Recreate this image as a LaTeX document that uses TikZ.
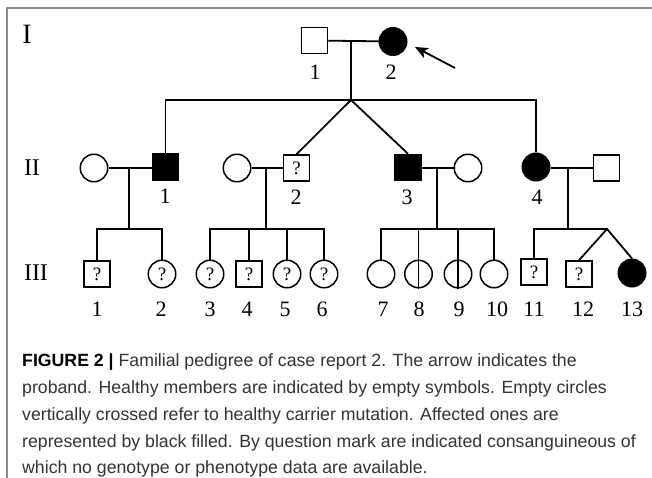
\documentclass[tikz,border=0pt]{standalone}
\usepackage{fontspec}
\setmainfont{Liberation Serif}
\newfontfamily\capfont{Liberation Sans}
\usetikzlibrary{arrows.meta}
\definecolor{frame}{gray}{0.55}
\definecolor{captxt}{gray}{0.2}
\begin{document}
\begin{tikzpicture}[x=1pt,y=-1pt,
  sq/.style={draw, line width=1.5pt, rectangle, minimum size=26pt, inner sep=0pt, font=\fontsize{19}{19}\selectfont},
  ci/.style={draw, line width=1.5pt, circle, minimum size=27.5pt, inner sep=0pt, font=\fontsize{19}{19}\selectfont},
  aff/.style={fill=black},
  lk/.style={line width=1.8pt},
  num/.style={font=\fontsize{22}{22}\selectfont, inner sep=0pt},
  gen/.style={font=\fontsize{24}{24}\selectfont, inner sep=0pt},
  capline/.style={anchor=base west, inner sep=0pt, text=captxt, font=\capfont\fontsize{17.7}{17.7}\selectfont}
]
\useasboundingbox (0,0) rectangle (652,478);
% frame
\draw[frame, line width=1.5pt] (7,478) -- (7,8) -- (652,8);

% generation labels
\node[gen, font=\fontsize{28}{28}\selectfont] (gI) at (27,34) {I};
\node[gen] (gII) at (32,168) {II};
\node[gen] (gIII) at (36,273) {III};

% generation I
\node[sq] (I1) at (314.5,40.5) {};
\node[ci, aff] (I2) at (393,41.5) {};
\node[num] (lI1) at (315,72) {1};
\node[num] (lI2) at (391,72) {2};
\coordinate (m1) at (351,41);
\coordinate (s1) at (351,100);
\draw[lk] (I1) -- (I2);
\draw[lk] (m1) -- (s1);
\coordinate (arrT) at (455,68);
\coordinate (arrH) at (415,47);
\draw[lk, -{Stealth[length=13pt,width=11pt,inset=3.5pt]}] (arrT) -- (arrH);

% generation II
\node[ci] (II1w) at (94,168) {};
\node[sq, aff] (II1) at (165.5,167) {};
\node[ci] (II2w) at (237,168) {};
\node[sq] (II2) at (296.5,168) {?};
\node[sq, aff] (II3) at (408,167.5) {};
\node[ci] (II3w) at (468,168) {};
\node[ci, aff] (II4) at (536,167) {};
\node[sq] (II4h) at (606.5,168) {};
\node[num] (lII1) at (165,196) {1};
\node[num] (lII2) at (296,197) {2};
\node[num] (lII3) at (407,197) {3};
\node[num] (lII4) at (537,197) {4};

\draw[lk] (II1.north) -- (II1 |- s1) -- (II4 |- s1) -- (II4.north);
\draw[lk] (II2.north) -- (s1) -- (II3.north);

% generation III
\node[sq] (III1) at (97,274) {?};
\node[ci] (III2) at (162,274) {?};
\node[ci] (III3) at (210,274) {?};
\node[sq] (III4) at (249,274) {?};
\node[ci] (III5) at (287,274) {?};
\node[ci] (III6) at (324,274) {?};
\node[ci] (III7) at (381,274) {};
\node[ci] (III8) at (418.5,274) {};
\node[ci] (III9) at (458,274) {};
\node[ci] (III10) at (494,274) {};
\node[sq] (III11) at (534,272) {?};
\node[sq] (III12) at (579,274) {?};
\node[ci, aff] (III13) at (632,273) {};

\node[num] (l1) at (97,309.5) {1};
\node[num] (l2) at (161,309.5) {2};
\node[num] (l3) at (210,309.5) {3};
\node[num] (l4) at (247,309.5) {4};
\node[num] (l5) at (285,309.5) {5};
\node[num] (l6) at (322,309.5) {6};
\node[num] (l7) at (383,309.5) {7};
\node[num] (l8) at (419,309.5) {8};
\node[num] (l9) at (459,309.5) {9};
\node[num] (l10) at (497,309.5) {10};
\node[num] (l11) at (534,309.5) {11};
\node[num] (l12) at (583,309.5) {12};
\node[num] (l13) at (632,309.5) {13};

% family 1
\coordinate (m21) at (129,168);
\coordinate (s21) at (129,229);
\draw[lk] (II1w) -- (II1w -| II1.west);
\draw[lk] (m21) -- (s21);
\draw[lk] (III1.north) -- (III1 |- s21) -- (III2 |- s21) -- (III2.north);
% family 2
\coordinate (m22) at (266,168);
\coordinate (s22) at (266,229);
\draw[lk] (II2w) -- (II2);
\draw[lk] (m22) -- (s22);
\draw[lk] (III3.north) -- (III3 |- s22) -- (III6 |- s22) -- (III6.north);
\draw[lk] (III4 |- s22) -- (III4.north);
\draw[lk] (III5 |- s22) -- (III5.north);
% family 3
\coordinate (m23) at (437,168);
\coordinate (s23) at (437,229);
\draw[lk] (II3w -| II3.east) -- (II3w);
\draw[lk] (m23) -- (s23);
\draw[lk] (III7.north) -- (III7 |- s23) -- (III10 |- s23) -- (III10.north);
\draw[lk] (III8 |- s23) -- (III8.south);
\draw[lk] (III9 |- s23) -- (III9.south);
% family 4
\coordinate (m24) at (568,168);
\coordinate (s24) at (568,229);
\coordinate (tw) at (607,229);
\draw[lk] (II4h -| II4.east) -- (II4h);
\draw[lk] (m24) -- (s24);
\draw[lk] (III11.north) -- (III11 |- s24) -- (tw);
\draw[lk] (III12.north) -- (tw) -- (III13.north);

% caption
\node[capline] (c1) at (22,366) {\textcolor{black}{\textbf{FIGURE 2 |}} Familial pedigree of case report 2. The arrow indicates the};
\node[capline] (c2) at (22,393) {proband. Healthy members are indicated by empty symbols. Empty circles};
\node[capline] (c3) at (22,420) {vertically crossed refer to healthy carrier mutation. Affected ones are};
\node[capline] (c4) at (22,447) {represented by black filled. By question mark are indicated consanguineous of};
\node[capline] (c5) at (22,473) {which no genotype or phenotype data are available.};
\end{tikzpicture}
\end{document}
